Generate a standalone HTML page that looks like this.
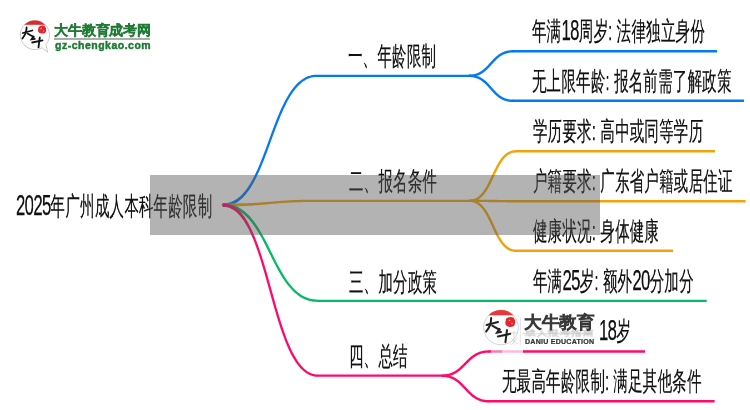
<!DOCTYPE html>
<html><head><meta charset="utf-8"><style>
html,body{margin:0;padding:0;background:#fff;width:750px;height:410px;overflow:hidden}
body{position:relative;font-family:"Liberation Sans",sans-serif}
svg.lines{position:absolute;left:0;top:0}
.t{position:absolute;font-size:26px;line-height:26px;white-space:nowrap;color:#111;-webkit-text-stroke:0.25px #111;letter-spacing:0.45px;transform:scaleX(0.556);transform-origin:0 0;will-change:transform}
.d{font-size:30px;letter-spacing:-1.1px;line-height:0;position:relative;top:0.3px}
.band{position:absolute;left:150px;top:175px;width:450px;height:59.5px;background:rgba(86,86,86,0.45)}
</style></head><body>
<svg class="lines" width="750" height="410" viewBox="0 0 750 410"><path d="M223.08,206.65 L225.46,206.51 L227.84,206.14 L230.14,205.56 L232.36,204.78 L234.49,203.81 L236.55,202.65 L238.52,201.32 L240.42,199.82 L242.25,198.17 L244.02,196.37 L245.72,194.44 L247.36,192.37 L248.95,190.18 L250.48,187.88 L251.98,185.46 L253.42,182.94 L254.84,180.33 L256.21,177.63 L257.55,174.84 L258.87,171.98 L260.16,169.06 L261.44,166.07 L262.69,163.03 L263.93,159.94 L265.14,156.81 L266.35,153.65 L267.54,150.46 L268.73,147.25 L269.90,144.02 L271.08,140.79 L272.26,137.57 L273.43,134.35 L274.61,131.14 L275.80,127.96 L277.00,124.81 L278.21,121.70 L279.44,118.63 L280.68,115.62 L281.95,112.66 L283.23,109.77 L284.54,106.96 L285.88,104.22 L287.25,101.58 L288.64,99.03 L290.08,96.58 L291.55,94.25 L293.05,92.03 L294.60,89.94 L296.19,87.98 L297.82,86.16 L299.49,84.49 L301.22,82.97 L302.99,81.60 L304.81,80.40 L306.68,79.37 L308.62,78.52 L310.61,77.84 L312.67,77.35 L314.79,77.05 L317.05,76.95 L316.95,74.65 L314.58,74.76 L312.24,75.09 L309.97,75.63 L307.78,76.37 L305.66,77.31 L303.62,78.43 L301.65,79.73 L299.75,81.19 L297.92,82.81 L296.15,84.58 L294.43,86.49 L292.78,88.53 L291.17,90.70 L289.62,92.99 L288.11,95.39 L286.64,97.90 L285.22,100.50 L283.82,103.19 L282.47,105.97 L281.14,108.82 L279.84,111.74 L278.56,114.73 L277.31,117.77 L276.07,120.86 L274.86,123.99 L273.65,127.15 L272.46,130.34 L271.27,133.55 L270.10,136.78 L268.92,140.01 L267.74,143.23 L266.57,146.45 L265.39,149.66 L264.20,152.84 L263.00,155.99 L261.79,159.10 L260.56,162.17 L259.32,165.18 L258.05,168.14 L256.76,171.02 L255.44,173.83 L254.09,176.56 L252.70,179.19 L251.29,181.73 L249.84,184.16 L248.35,186.48 L246.83,188.68 L245.27,190.75 L243.66,192.69 L242.02,194.49 L240.34,196.13 L238.61,197.62 L236.84,198.95 L235.02,200.12 L233.16,201.11 L231.24,201.93 L229.28,202.56 L227.25,203.02 L225.16,203.28 L222.92,203.35Z" fill="#0479f4"/><path d="M316.50,75.80 L469.00,75.80" stroke="#0479f4" stroke-width="2.30" fill="none"/><path d="M469.02,77.00 L470.13,76.98 L471.22,76.92 L472.28,76.81 L473.31,76.67 L474.30,76.49 L475.27,76.28 L476.20,76.03 L477.11,75.75 L477.99,75.43 L478.84,75.09 L479.67,74.72 L480.47,74.32 L481.24,73.89 L482.00,73.44 L482.73,72.97 L483.44,72.48 L484.13,71.97 L484.80,71.44 L485.46,70.90 L486.09,70.34 L486.72,69.78 L487.33,69.20 L487.93,68.61 L488.52,68.01 L489.09,67.41 L489.67,66.80 L490.23,66.19 L490.79,65.58 L491.34,64.97 L491.89,64.35 L492.44,63.74 L492.99,63.13 L493.54,62.53 L494.09,61.93 L494.65,61.34 L495.20,60.76 L495.77,60.19 L496.34,59.63 L496.92,59.08 L497.50,58.55 L498.10,58.03 L498.70,57.53 L499.32,57.04 L499.96,56.57 L500.60,56.13 L501.27,55.70 L501.95,55.29 L502.64,54.91 L503.36,54.55 L504.10,54.22 L504.86,53.91 L505.65,53.63 L506.46,53.38 L507.30,53.15 L508.17,52.96 L509.07,52.80 L510.00,52.67 L510.96,52.58 L511.96,52.52 L513.02,52.50 L512.98,50.10 L511.87,50.12 L510.78,50.18 L509.72,50.29 L508.69,50.43 L507.70,50.61 L506.73,50.82 L505.80,51.07 L504.89,51.35 L504.01,51.67 L503.16,52.01 L502.33,52.38 L501.53,52.78 L500.76,53.21 L500.00,53.66 L499.27,54.13 L498.56,54.62 L497.87,55.13 L497.20,55.66 L496.54,56.20 L495.91,56.76 L495.28,57.32 L494.67,57.90 L494.07,58.49 L493.48,59.09 L492.91,59.69 L492.33,60.30 L491.77,60.91 L491.21,61.52 L490.66,62.13 L490.11,62.75 L489.56,63.36 L489.01,63.97 L488.46,64.57 L487.91,65.17 L487.35,65.76 L486.80,66.34 L486.23,66.91 L485.66,67.47 L485.08,68.02 L484.50,68.55 L483.90,69.07 L483.30,69.57 L482.68,70.06 L482.04,70.53 L481.40,70.97 L480.73,71.40 L480.05,71.81 L479.36,72.19 L478.64,72.55 L477.90,72.88 L477.14,73.19 L476.35,73.47 L475.54,73.72 L474.70,73.95 L473.83,74.14 L472.93,74.30 L472.00,74.43 L471.04,74.52 L470.04,74.58 L468.98,74.60Z" fill="#0479f4"/><path d="M512.50,51.30 L717.00,51.30" stroke="#0479f4" stroke-width="2.40" fill="none"/><path d="M468.98,77.00 L470.04,77.02 L471.03,77.08 L472.00,77.17 L472.93,77.30 L473.83,77.47 L474.69,77.66 L475.53,77.89 L476.34,78.15 L477.13,78.44 L477.89,78.75 L478.63,79.09 L479.35,79.46 L480.04,79.85 L480.72,80.26 L481.39,80.70 L482.03,81.15 L482.67,81.63 L483.29,82.13 L483.89,82.64 L484.49,83.17 L485.08,83.71 L485.65,84.27 L486.22,84.85 L486.79,85.43 L487.35,86.02 L487.90,86.62 L488.45,87.23 L489.00,87.85 L489.55,88.47 L490.10,89.09 L490.65,89.72 L491.20,90.35 L491.76,90.97 L492.33,91.59 L492.90,92.21 L493.48,92.83 L494.06,93.44 L494.66,94.04 L495.27,94.63 L495.90,95.21 L496.54,95.77 L497.19,96.33 L497.86,96.86 L498.55,97.38 L499.26,97.89 L499.99,98.37 L500.75,98.82 L501.52,99.26 L502.32,99.67 L503.15,100.05 L504.00,100.40 L504.88,100.72 L505.79,101.01 L506.73,101.26 L507.69,101.48 L508.69,101.67 L509.72,101.81 L510.78,101.91 L511.87,101.98 L512.98,102.00 L513.02,99.60 L511.96,99.58 L510.97,99.52 L510.00,99.43 L509.07,99.30 L508.17,99.13 L507.31,98.94 L506.47,98.71 L505.66,98.45 L504.87,98.16 L504.11,97.85 L503.37,97.51 L502.65,97.14 L501.96,96.75 L501.28,96.34 L500.61,95.90 L499.97,95.45 L499.33,94.97 L498.71,94.47 L498.11,93.96 L497.51,93.43 L496.92,92.89 L496.35,92.33 L495.78,91.75 L495.21,91.17 L494.65,90.58 L494.10,89.98 L493.55,89.37 L493.00,88.75 L492.45,88.13 L491.90,87.51 L491.35,86.88 L490.80,86.25 L490.24,85.63 L489.67,85.01 L489.10,84.39 L488.52,83.77 L487.94,83.16 L487.34,82.56 L486.73,81.97 L486.10,81.39 L485.46,80.83 L484.81,80.27 L484.14,79.74 L483.45,79.22 L482.74,78.71 L482.01,78.23 L481.25,77.78 L480.48,77.34 L479.68,76.93 L478.85,76.55 L478.00,76.20 L477.12,75.88 L476.21,75.59 L475.27,75.34 L474.31,75.12 L473.31,74.93 L472.28,74.79 L471.22,74.69 L470.13,74.62 L469.02,74.60Z" fill="#0479f4"/><path d="M512.50,100.80 L744.00,100.80" stroke="#0479f4" stroke-width="2.40" fill="none"/><path d="M223.00,206.65 L225.32,206.62 L227.56,206.58 L229.72,206.53 L231.82,206.48 L233.85,206.43 L235.81,206.37 L237.71,206.31 L239.55,206.24 L241.34,206.17 L243.07,206.09 L244.74,206.01 L246.37,205.93 L247.95,205.85 L249.48,205.76 L250.98,205.66 L252.43,205.57 L253.85,205.47 L255.23,205.37 L256.58,205.27 L257.90,205.17 L259.20,205.06 L260.47,204.96 L261.72,204.85 L262.96,204.74 L264.17,204.63 L265.38,204.52 L266.57,204.41 L267.75,204.30 L268.93,204.18 L270.10,204.07 L271.28,203.96 L272.46,203.85 L273.64,203.74 L274.83,203.64 L276.03,203.53 L277.24,203.43 L278.47,203.32 L279.71,203.23 L280.98,203.13 L282.27,203.04 L283.58,202.94 L284.93,202.85 L286.30,202.77 L287.71,202.68 L289.16,202.60 L290.64,202.53 L292.17,202.45 L293.74,202.39 L295.35,202.32 L297.02,202.26 L298.74,202.20 L300.51,202.15 L302.35,202.11 L304.24,202.07 L306.19,202.03 L308.21,202.00 L310.30,201.98 L312.46,201.96 L314.69,201.95 L317.00,201.95 L317.00,199.65 L314.69,199.65 L312.45,199.66 L310.28,199.68 L308.18,199.70 L306.16,199.73 L304.19,199.77 L302.29,199.81 L300.45,199.85 L298.67,199.91 L296.94,199.96 L295.27,200.02 L293.64,200.09 L292.06,200.16 L290.53,200.23 L289.03,200.31 L287.58,200.39 L286.16,200.47 L284.78,200.56 L283.43,200.65 L282.10,200.74 L280.81,200.84 L279.53,200.93 L278.28,201.03 L277.05,201.13 L275.83,201.23 L274.63,201.33 L273.44,201.43 L272.25,201.53 L271.07,201.63 L269.90,201.73 L268.72,201.83 L267.54,201.92 L266.36,202.02 L265.17,202.12 L263.97,202.21 L262.76,202.30 L261.53,202.39 L260.28,202.48 L259.01,202.57 L257.72,202.65 L256.41,202.73 L255.07,202.81 L253.69,202.89 L252.28,202.96 L250.84,203.02 L249.35,203.09 L247.82,203.14 L246.25,203.20 L244.64,203.24 L242.97,203.29 L241.25,203.32 L239.48,203.35 L237.65,203.38 L235.75,203.40 L233.80,203.41 L231.78,203.41 L229.69,203.41 L227.54,203.40 L225.31,203.38 L223.00,203.35Z" fill="#f0a30a"/><path d="M316.50,200.80 L470.00,200.80" stroke="#f0a30a" stroke-width="2.30" fill="none"/><path d="M469.84,202.00 L471.02,201.96 L472.21,201.83 L473.36,201.61 L474.47,201.32 L475.55,200.95 L476.59,200.50 L477.60,199.98 L478.57,199.40 L479.50,198.76 L480.40,198.06 L481.27,197.30 L482.11,196.50 L482.92,195.64 L483.70,194.74 L484.46,193.80 L485.20,192.82 L485.91,191.81 L486.61,190.76 L487.29,189.68 L487.95,188.57 L488.59,187.44 L489.23,186.28 L489.85,185.11 L490.46,183.92 L491.06,182.71 L491.66,181.49 L492.25,180.27 L492.83,179.03 L493.41,177.80 L493.99,176.56 L494.56,175.32 L495.14,174.09 L495.72,172.87 L496.30,171.65 L496.89,170.45 L497.48,169.27 L498.08,168.10 L498.69,166.95 L499.30,165.83 L499.93,164.74 L500.56,163.67 L501.21,162.64 L501.87,161.65 L502.54,160.69 L503.23,159.77 L503.94,158.90 L504.66,158.07 L505.39,157.29 L506.15,156.57 L506.92,155.89 L507.72,155.28 L508.53,154.71 L509.37,154.21 L510.23,153.77 L511.11,153.39 L512.02,153.08 L512.97,152.83 L513.94,152.65 L514.95,152.54 L516.04,152.50 L515.96,150.10 L514.78,150.14 L513.59,150.27 L512.44,150.49 L511.33,150.78 L510.25,151.15 L509.21,151.60 L508.20,152.12 L507.23,152.70 L506.30,153.34 L505.40,154.04 L504.53,154.80 L503.69,155.60 L502.88,156.46 L502.10,157.36 L501.34,158.30 L500.60,159.28 L499.89,160.29 L499.19,161.34 L498.51,162.42 L497.85,163.53 L497.21,164.66 L496.57,165.82 L495.95,166.99 L495.34,168.18 L494.74,169.39 L494.14,170.61 L493.55,171.83 L492.97,173.07 L492.39,174.30 L491.81,175.54 L491.24,176.78 L490.66,178.01 L490.08,179.23 L489.50,180.45 L488.91,181.65 L488.32,182.83 L487.72,184.00 L487.11,185.15 L486.50,186.27 L485.87,187.36 L485.24,188.43 L484.59,189.46 L483.93,190.45 L483.26,191.41 L482.57,192.33 L481.86,193.20 L481.14,194.03 L480.41,194.81 L479.65,195.53 L478.88,196.21 L478.08,196.82 L477.27,197.39 L476.43,197.89 L475.57,198.33 L474.69,198.71 L473.78,199.02 L472.83,199.27 L471.86,199.45 L470.85,199.56 L469.76,199.60Z" fill="#f0a30a"/><path d="M515.50,151.30 L715.00,151.30" stroke="#f0a30a" stroke-width="2.40" fill="none"/><path d="M469.80,202.00 L470.94,202.00 L472.03,202.00 L473.10,202.00 L474.12,202.01 L475.12,202.01 L476.08,202.01 L477.01,202.02 L477.91,202.02 L478.78,202.02 L479.63,202.03 L480.45,202.04 L481.25,202.04 L482.02,202.05 L482.77,202.06 L483.50,202.06 L484.21,202.07 L484.91,202.08 L485.59,202.09 L486.25,202.09 L486.89,202.10 L487.53,202.11 L488.15,202.12 L488.77,202.13 L489.37,202.14 L489.97,202.15 L490.56,202.16 L491.14,202.17 L491.72,202.18 L492.30,202.19 L492.88,202.20 L493.46,202.21 L494.04,202.22 L494.62,202.23 L495.20,202.24 L495.79,202.25 L496.39,202.26 L497.00,202.27 L497.61,202.28 L498.24,202.29 L498.87,202.30 L499.52,202.30 L500.18,202.31 L500.86,202.32 L501.56,202.33 L502.27,202.34 L503.00,202.34 L503.76,202.35 L504.53,202.36 L505.33,202.36 L506.15,202.37 L507.00,202.38 L507.88,202.38 L508.78,202.38 L509.71,202.39 L510.68,202.39 L511.67,202.39 L512.70,202.40 L513.76,202.40 L514.86,202.40 L516.00,202.40 L516.00,200.00 L514.86,200.00 L513.77,200.00 L512.70,200.00 L511.68,199.99 L510.68,199.99 L509.72,199.99 L508.79,199.98 L507.89,199.98 L507.02,199.98 L506.17,199.97 L505.35,199.96 L504.55,199.96 L503.78,199.95 L503.03,199.94 L502.30,199.94 L501.59,199.93 L500.89,199.92 L500.21,199.91 L499.55,199.91 L498.91,199.90 L498.27,199.89 L497.65,199.88 L497.03,199.87 L496.43,199.86 L495.83,199.85 L495.24,199.84 L494.66,199.83 L494.08,199.82 L493.50,199.81 L492.92,199.80 L492.34,199.79 L491.76,199.78 L491.18,199.77 L490.60,199.76 L490.01,199.75 L489.41,199.74 L488.80,199.73 L488.19,199.72 L487.56,199.71 L486.93,199.70 L486.28,199.70 L485.62,199.69 L484.94,199.68 L484.24,199.67 L483.53,199.66 L482.80,199.66 L482.04,199.65 L481.27,199.64 L480.47,199.64 L479.65,199.63 L478.80,199.62 L477.92,199.62 L477.02,199.62 L476.09,199.61 L475.12,199.61 L474.13,199.61 L473.10,199.60 L472.04,199.60 L470.94,199.60 L469.80,199.60Z" fill="#f0a30a"/><path d="M515.50,201.20 L745.60,201.20" stroke="#f0a30a" stroke-width="2.40" fill="none"/><path d="M469.76,202.00 L470.85,202.04 L471.86,202.15 L472.83,202.33 L473.77,202.58 L474.68,202.90 L475.57,203.28 L476.43,203.73 L477.26,204.24 L478.08,204.80 L478.87,205.43 L479.65,206.11 L480.40,206.84 L481.14,207.63 L481.86,208.46 L482.57,209.34 L483.25,210.27 L483.93,211.24 L484.59,212.25 L485.24,213.29 L485.87,214.36 L486.50,215.47 L487.11,216.60 L487.72,217.76 L488.32,218.94 L488.91,220.13 L489.49,221.35 L490.08,222.57 L490.66,223.81 L491.23,225.05 L491.81,226.30 L492.39,227.55 L492.97,228.80 L493.55,230.05 L494.14,231.29 L494.74,232.52 L495.34,233.74 L495.95,234.94 L496.57,236.13 L497.20,237.29 L497.85,238.44 L498.51,239.56 L499.19,240.65 L499.88,241.71 L500.60,242.73 L501.33,243.72 L502.09,244.67 L502.88,245.58 L503.69,246.44 L504.53,247.26 L505.39,248.02 L506.29,248.73 L507.23,249.38 L508.20,249.96 L509.20,250.48 L510.24,250.93 L511.32,251.31 L512.44,251.61 L513.59,251.82 L514.78,251.96 L515.96,252.00 L516.04,249.60 L514.95,249.56 L513.94,249.45 L512.97,249.27 L512.03,249.02 L511.12,248.70 L510.23,248.32 L509.37,247.87 L508.54,247.36 L507.72,246.80 L506.93,246.17 L506.15,245.49 L505.40,244.76 L504.66,243.97 L503.94,243.14 L503.23,242.26 L502.55,241.33 L501.87,240.36 L501.21,239.35 L500.56,238.31 L499.93,237.24 L499.30,236.13 L498.69,235.00 L498.08,233.84 L497.48,232.66 L496.89,231.47 L496.31,230.25 L495.72,229.03 L495.14,227.79 L494.57,226.55 L493.99,225.30 L493.41,224.05 L492.83,222.80 L492.25,221.55 L491.66,220.31 L491.06,219.08 L490.46,217.86 L489.85,216.66 L489.23,215.47 L488.60,214.31 L487.95,213.16 L487.29,212.04 L486.61,210.95 L485.92,209.89 L485.20,208.87 L484.47,207.88 L483.71,206.93 L482.92,206.02 L482.11,205.16 L481.27,204.34 L480.41,203.58 L479.51,202.87 L478.57,202.22 L477.60,201.64 L476.60,201.12 L475.56,200.67 L474.48,200.29 L473.36,199.99 L472.21,199.78 L471.02,199.64 L469.84,199.60Z" fill="#f0a30a"/><path d="M515.50,250.80 L673.00,250.80" stroke="#f0a30a" stroke-width="2.40" fill="none"/><path d="M222.94,206.70 L225.22,206.74 L227.37,206.93 L229.45,207.26 L231.46,207.73 L233.41,208.33 L235.31,209.07 L237.15,209.92 L238.94,210.90 L240.68,212.00 L242.37,213.21 L244.02,214.53 L245.63,215.95 L247.19,217.47 L248.72,219.09 L250.21,220.79 L251.67,222.58 L253.09,224.45 L254.48,226.39 L255.84,228.39 L257.17,230.47 L258.48,232.59 L259.76,234.77 L261.03,237.00 L262.27,239.27 L263.49,241.57 L264.70,243.90 L265.90,246.26 L267.09,248.63 L268.28,251.02 L269.47,253.41 L270.66,255.81 L271.85,258.20 L273.05,260.58 L274.26,262.95 L275.47,265.30 L276.71,267.62 L277.96,269.92 L279.23,272.18 L280.52,274.40 L281.84,276.57 L283.18,278.69 L284.56,280.76 L285.97,282.76 L287.42,284.70 L288.91,286.56 L290.44,288.35 L292.02,290.06 L293.65,291.67 L295.33,293.19 L297.06,294.61 L298.86,295.93 L300.71,297.13 L302.63,298.21 L304.61,299.17 L306.67,300.00 L308.79,300.69 L310.98,301.23 L313.25,301.63 L315.59,301.87 L317.96,301.95 L318.04,299.65 L315.74,299.57 L313.56,299.35 L311.46,298.98 L309.42,298.47 L307.45,297.83 L305.55,297.07 L303.70,296.17 L301.90,295.16 L300.16,294.03 L298.47,292.79 L296.83,291.45 L295.23,290.00 L293.68,288.46 L292.16,286.82 L290.68,285.10 L289.24,283.29 L287.83,281.41 L286.46,279.46 L285.11,277.44 L283.79,275.36 L282.50,273.22 L281.22,271.03 L279.97,268.80 L278.73,266.53 L277.51,264.23 L276.30,261.90 L275.10,259.54 L273.91,257.17 L272.72,254.78 L271.53,252.39 L270.34,249.99 L269.15,247.60 L267.95,245.22 L266.74,242.85 L265.53,240.50 L264.29,238.18 L263.05,235.88 L261.79,233.62 L260.50,231.39 L259.20,229.21 L257.87,227.08 L256.50,225.00 L255.10,222.98 L253.67,221.03 L252.20,219.15 L250.68,217.34 L249.11,215.62 L247.49,213.98 L245.82,212.43 L244.09,210.98 L242.30,209.64 L240.45,208.41 L238.52,207.29 L236.53,206.30 L234.47,205.44 L232.33,204.71 L230.11,204.13 L227.82,203.70 L225.45,203.42 L223.06,203.30Z" fill="#05bb66"/><path d="M317.50,300.80 L706.70,300.80" stroke="#05bb66" stroke-width="2.30" fill="none"/><path d="M222.89,206.80 L225.12,206.89 L227.18,207.23 L229.19,207.81 L231.15,208.64 L233.07,209.71 L234.95,211.01 L236.79,212.55 L238.60,214.31 L240.36,216.29 L242.09,218.47 L243.77,220.86 L245.41,223.43 L247.01,226.19 L248.57,229.11 L250.08,232.19 L251.56,235.42 L253.01,238.79 L254.41,242.29 L255.77,245.91 L257.10,249.63 L258.40,253.46 L259.68,257.37 L260.94,261.36 L262.18,265.42 L263.40,269.53 L264.62,273.70 L265.82,277.90 L267.01,282.14 L268.20,286.39 L269.39,290.66 L270.58,294.93 L271.77,299.18 L272.97,303.42 L274.17,307.64 L275.39,311.81 L276.62,315.95 L277.87,320.02 L279.13,324.03 L280.42,327.97 L281.73,331.82 L283.07,335.58 L284.44,339.24 L285.84,342.79 L287.28,346.22 L288.75,349.51 L290.27,352.67 L291.84,355.68 L293.45,358.53 L295.12,361.22 L296.84,363.73 L298.62,366.06 L300.46,368.19 L302.38,370.11 L304.37,371.82 L306.43,373.31 L308.58,374.55 L310.81,375.54 L313.13,376.26 L315.53,376.70 L317.93,376.85 L318.07,374.55 L315.80,374.42 L313.68,374.03 L311.62,373.39 L309.63,372.50 L307.68,371.38 L305.79,370.02 L303.95,368.43 L302.15,366.62 L300.40,364.60 L298.70,362.38 L297.04,359.96 L295.43,357.36 L293.86,354.58 L292.33,351.64 L290.84,348.54 L289.39,345.30 L287.97,341.92 L286.58,338.42 L285.23,334.79 L283.90,331.07 L282.60,327.24 L281.32,323.33 L280.06,319.34 L278.82,315.28 L277.60,311.17 L276.38,307.00 L275.18,302.80 L273.99,298.56 L272.80,294.31 L271.61,290.04 L270.42,285.77 L269.23,281.52 L268.03,277.28 L266.83,273.06 L265.61,268.89 L264.38,264.75 L263.13,260.68 L261.87,256.67 L260.58,252.73 L259.27,248.88 L257.93,245.12 L256.57,241.46 L255.19,237.90 L253.77,234.46 L252.32,231.15 L250.83,227.98 L249.30,224.95 L247.71,222.07 L246.07,219.36 L244.38,216.81 L242.62,214.45 L240.79,212.28 L238.88,210.31 L236.89,208.55 L234.81,207.01 L232.64,205.71 L230.37,204.66 L228.01,203.89 L225.55,203.39 L223.11,203.20Z" fill="#ff0a6a"/><path d="M317.50,375.70 L442.00,375.70" stroke="#ff0a6a" stroke-width="2.30" fill="none"/><circle cx="223.6" cy="205" r="1.8" fill="#ff0a6a"/><path d="M441.82,376.90 L443.00,376.88 L444.17,376.82 L445.30,376.72 L446.39,376.58 L447.45,376.40 L448.48,376.19 L449.48,375.95 L450.45,375.67 L451.38,375.36 L452.29,375.02 L453.17,374.66 L454.03,374.26 L454.86,373.85 L455.66,373.40 L456.44,372.94 L457.20,372.46 L457.94,371.96 L458.66,371.44 L459.36,370.90 L460.04,370.35 L460.71,369.79 L461.37,369.22 L462.01,368.64 L462.64,368.05 L463.26,367.46 L463.87,366.86 L464.47,366.26 L465.07,365.65 L465.67,365.04 L466.26,364.44 L466.85,363.83 L467.44,363.23 L468.03,362.64 L468.62,362.05 L469.21,361.46 L469.81,360.89 L470.42,360.33 L471.03,359.77 L471.65,359.23 L472.28,358.70 L472.92,358.19 L473.57,357.69 L474.24,357.21 L474.92,356.75 L475.62,356.30 L476.33,355.88 L477.06,355.48 L477.82,355.10 L478.59,354.74 L479.39,354.41 L480.21,354.10 L481.06,353.82 L481.94,353.57 L482.84,353.35 L483.78,353.16 L484.75,353.00 L485.76,352.87 L486.80,352.78 L487.88,352.72 L489.02,352.70 L488.98,350.30 L487.80,350.32 L486.63,350.38 L485.50,350.48 L484.41,350.62 L483.35,350.80 L482.32,351.01 L481.32,351.25 L480.35,351.53 L479.42,351.84 L478.51,352.18 L477.63,352.54 L476.77,352.94 L475.94,353.35 L475.14,353.80 L474.36,354.26 L473.60,354.74 L472.86,355.24 L472.14,355.76 L471.44,356.30 L470.76,356.85 L470.09,357.41 L469.43,357.98 L468.79,358.56 L468.16,359.15 L467.54,359.74 L466.93,360.34 L466.33,360.94 L465.73,361.55 L465.13,362.16 L464.54,362.76 L463.95,363.37 L463.36,363.97 L462.77,364.56 L462.18,365.15 L461.59,365.74 L460.99,366.31 L460.38,366.87 L459.77,367.43 L459.15,367.97 L458.52,368.50 L457.88,369.01 L457.23,369.51 L456.56,369.99 L455.88,370.45 L455.18,370.90 L454.47,371.32 L453.74,371.72 L452.98,372.10 L452.21,372.46 L451.41,372.79 L450.59,373.10 L449.74,373.38 L448.86,373.63 L447.96,373.85 L447.02,374.04 L446.05,374.20 L445.04,374.33 L444.00,374.42 L442.92,374.48 L441.78,374.50Z" fill="#ff0a6a"/><path d="M488.50,351.50 L645.00,351.50" stroke="#ff0a6a" stroke-width="2.40" fill="none"/><path d="M441.78,376.90 L442.92,376.92 L443.99,376.98 L445.03,377.08 L446.04,377.21 L447.01,377.38 L447.94,377.58 L448.85,377.82 L449.72,378.08 L450.57,378.38 L451.39,378.70 L452.19,379.05 L452.96,379.43 L453.71,379.83 L454.44,380.26 L455.16,380.71 L455.85,381.18 L456.54,381.66 L457.20,382.17 L457.85,382.70 L458.50,383.24 L459.13,383.80 L459.75,384.38 L460.36,384.96 L460.96,385.56 L461.56,386.17 L462.16,386.78 L462.75,387.41 L463.34,388.04 L463.93,388.67 L464.52,389.31 L465.11,389.95 L465.70,390.60 L466.30,391.24 L466.91,391.87 L467.52,392.51 L468.14,393.14 L468.77,393.76 L469.41,394.37 L470.06,394.98 L470.73,395.57 L471.42,396.15 L472.12,396.71 L472.84,397.26 L473.57,397.79 L474.33,398.31 L475.11,398.80 L475.92,399.26 L476.75,399.71 L477.60,400.12 L478.49,400.51 L479.40,400.87 L480.34,401.20 L481.30,401.49 L482.30,401.75 L483.33,401.97 L484.40,402.16 L485.50,402.31 L486.63,402.41 L487.80,402.48 L488.98,402.50 L489.02,400.10 L487.88,400.08 L486.81,400.02 L485.77,399.92 L484.76,399.79 L483.79,399.62 L482.86,399.42 L481.95,399.18 L481.08,398.92 L480.23,398.62 L479.41,398.30 L478.61,397.95 L477.84,397.57 L477.09,397.17 L476.36,396.74 L475.64,396.29 L474.95,395.82 L474.26,395.34 L473.60,394.83 L472.95,394.30 L472.30,393.76 L471.67,393.20 L471.05,392.62 L470.44,392.04 L469.84,391.44 L469.24,390.83 L468.64,390.22 L468.05,389.59 L467.46,388.96 L466.87,388.33 L466.28,387.69 L465.69,387.05 L465.10,386.40 L464.50,385.76 L463.89,385.13 L463.28,384.49 L462.66,383.86 L462.03,383.24 L461.39,382.63 L460.74,382.02 L460.07,381.43 L459.38,380.85 L458.68,380.29 L457.96,379.74 L457.23,379.21 L456.47,378.69 L455.69,378.20 L454.88,377.74 L454.05,377.29 L453.20,376.88 L452.31,376.49 L451.40,376.13 L450.46,375.80 L449.50,375.51 L448.50,375.25 L447.47,375.03 L446.40,374.84 L445.30,374.69 L444.17,374.59 L443.00,374.52 L441.82,374.50Z" fill="#ff0a6a"/><path d="M488.50,401.30 L714.60,401.30" stroke="#ff0a6a" stroke-width="2.40" fill="none"/></svg>
<div class="t" style="left:15.5px;top:193.2px"><span class="d">2025</span>年广州成人本科年龄限制</div><div class="t" style="left:347.9px;top:43.4px">一、年龄限制</div><div class="t" style="left:348.8px;top:168.2px">二、报名条件</div><div class="t" style="left:348.6px;top:269.1px">三、加分政策</div><div class="t" style="left:348.8px;top:343.2px">四、总结</div><div class="t" style="left:532.0px;top:18.1px">年满<span class="d">18</span>周岁: 法律独立身份</div><div class="t" style="left:532.0px;top:68.1px">无上限年龄: 报名前需了解政策</div><div class="t" style="left:532.5px;top:118.1px">学历要求: 高中或同等学历</div><div class="t" style="left:532.5px;top:168.1px">户籍要求: 广东省户籍或居住证</div><div class="t" style="left:533.3px;top:218.1px">健康状况: 身体健康</div><div class="t" style="left:532.7px;top:268.1px">年满<span class="d">25</span>岁: 额外<span class="d">20</span>分加分</div><div class="t" style="left:598.8px;top:318.2px"><span class="d">18</span>岁</div><div class="t" style="left:502.4px;top:368.1px">无最高年龄限制: 满足其他条件</div>
<svg style="position:absolute;left:0;top:0" width="160" height="60" viewBox="0 0 160 60">
 <defs><clipPath id="c1"><circle cx="34.8" cy="35.1" r="14.6"/></clipPath></defs>
 <path d="M46.0,44.5 A14.6,14.6 0 1 0 42.1,47.7 L47.6,52.3 Z" fill="#fff" stroke="#c4c4c4" stroke-width="0.9" stroke-linejoin="round"/>
 <rect x="18" y="18" width="34" height="6.8" fill="#e3262b" clip-path="url(#c1)"/>
 <path d="M38.6,27 Q41,24.8 44.5,25.8 Q46.8,28 46.2,31 Q45.5,33.8 42,33.6 Q38.2,33.4 38,30.2 Z" fill="#e3262b"/>
 <circle cx="41" cy="28.5" r="0.7" fill="#f7b8b8"/><circle cx="43.5" cy="31" r="0.6" fill="#f7b8b8"/>
 <g stroke="#111" stroke-width="1.8" fill="none" stroke-linecap="round">
  <path d="M22.8,33 L32.3,30.5"/>
  <path d="M26.6,27.3 Q26.6,33.5 22.4,38.5"/>
  <path d="M27.5,33.6 Q30.5,35.5 33.8,37"/>
  <path d="M33.5,36.4 L31.5,39.3 L34.8,38.8"/>
  <path d="M32.2,42.5 L42.5,40.4"/>
  <path d="M39.8,37.3 L38.5,47.3"/>
 </g>
</svg>
<div style="position:absolute;left:53.8px;top:23.2px;font-size:14px;line-height:14px;color:#1f7a33;-webkit-text-stroke:1px #1f7a33;white-space:nowrap;letter-spacing:-0.15px;will-change:transform">大牛教育成考网</div>
<div style="position:absolute;left:54px;top:38.1px;width:96px;height:1.7px;background:#a9aeaa"></div>
<div style="position:absolute;left:55px;top:39px;font-size:10.5px;line-height:12px;font-weight:bold;color:#1f7a33;-webkit-text-stroke:0.45px #1f7a33;white-space:nowrap;letter-spacing:0.5px;will-change:transform">gz-chengkao.com</div>
<svg style="position:absolute;left:0;top:0" width="750" height="410" viewBox="0 0 750 410">
 <rect x="491" y="348.5" width="11" height="6" fill="#fff" opacity="0.45"/><rect x="502" y="348.5" width="21" height="6" fill="#fff" opacity="0.72"/>
 <defs><clipPath id="c2"><circle cx="501" cy="327.5" r="17.5"/></clipPath></defs>
 <circle cx="501" cy="327.5" r="17.3" fill="#fff" stroke="#cfcfcf" stroke-width="0.9"/>
 <rect x="480" y="305" width="42" height="10.3" fill="#e8383c" clip-path="url(#c2)"/>
 <path d="M506,318.8 Q509.5,316.2 513.5,317.5 Q515.8,320.5 515,323.8 Q514,327 510,327 Q505.5,326.8 505.3,322.8 Z" fill="#e3262b"/>
 <circle cx="509.5" cy="320.5" r="0.8" fill="#f7b8b8"/><circle cx="512" cy="323.5" r="0.7" fill="#f7b8b8"/>
 <g transform="translate(459.24,285.38) scale(1.2)" stroke="#222" stroke-width="1.7" fill="none" stroke-linecap="round">
  <path d="M22.8,33 L32.3,30.5"/>
  <path d="M26.6,27.3 Q26.6,33.5 22.4,38.5"/>
  <path d="M27.5,33.6 Q30.5,35.5 33.8,37"/>
  <path d="M33.5,36.4 L31.5,39.3 L34.8,38.8"/>
  <path d="M32.2,42.5 L42.5,40.4"/>
  <path d="M39.8,37.3 L38.5,47.3"/>
 </g>
 <path d="M511,333 L518,333 M514,331 L514,345 M510.5,338 L518,344 M518,337 L511,345" stroke="#c8c8c8" stroke-width="0.6" fill="none"/>
 <path d="M520.3,318 L520.3,345" stroke="#d4d4d4" stroke-width="0.7"/>
 <path d="M522,333.7 L592,333.7" stroke="#cdcdcd" stroke-width="0.7"/>
</svg>
<div style="position:absolute;left:524.5px;top:329.6px;font-size:8px;line-height:8px;color:rgba(255,255,255,0);-webkit-text-stroke:0.4px #c6c6c6;white-space:nowrap;letter-spacing:0.45px;transform:scale(1.36,0.95);transform-origin:0 0;will-change:transform">成人报考指南</div>
<div style="position:absolute;left:523.5px;top:314.2px;font-size:16.5px;line-height:16.5px;color:#383838;-webkit-text-stroke:1.1px #383838;white-space:nowrap;letter-spacing:0px;transform:scaleX(1.035);transform-origin:0 0;will-change:transform">大牛教育</div>
<div style="position:absolute;left:525px;top:337.6px;font-size:6.6px;line-height:7px;font-weight:bold;color:#333;-webkit-text-stroke:0.2px #333;white-space:nowrap;letter-spacing:0.2px;transform:scaleX(1.075);transform-origin:0 0;will-change:transform">DANIU EDUCATION</div>

<div class="band"></div>
</body></html>
